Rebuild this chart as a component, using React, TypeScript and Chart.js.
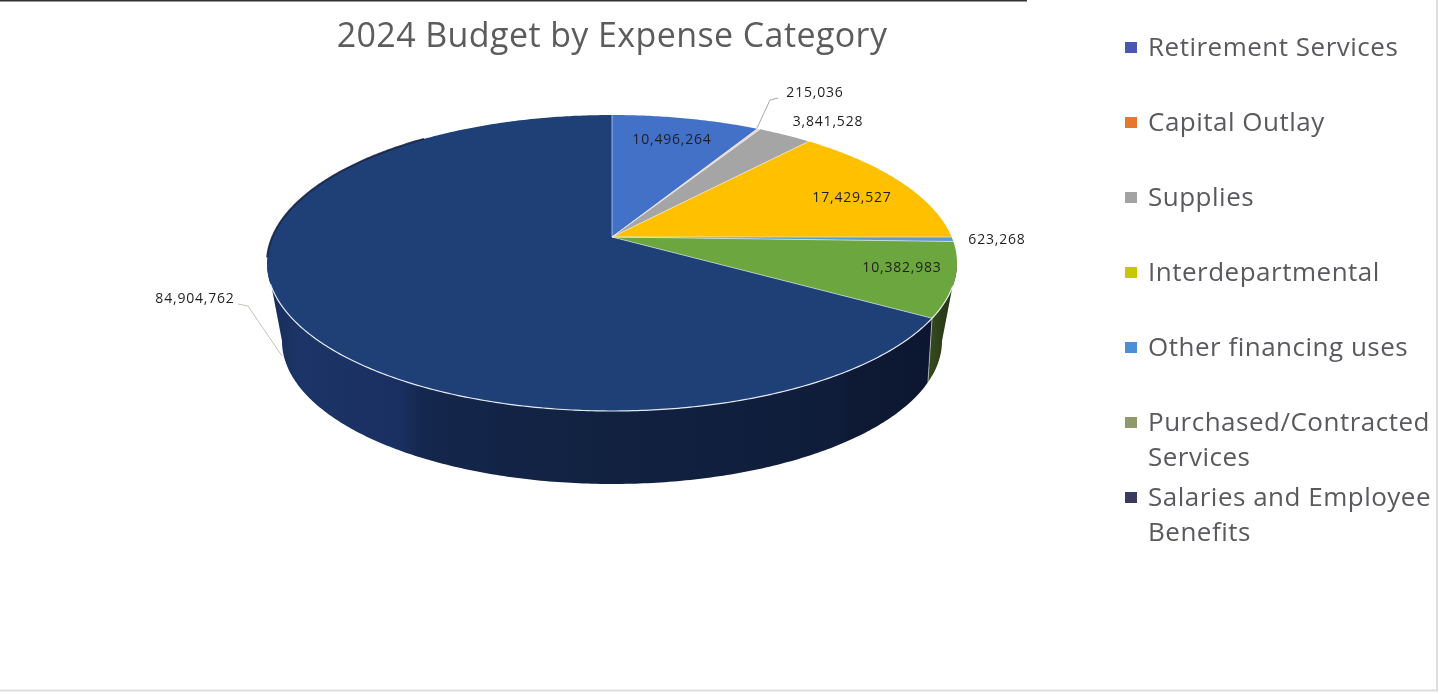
import React, { useEffect, useRef } from "react";
import { Chart, registerables } from "chart.js";

Chart.register(...registerables);

const titleText = "2024 Budget by Expense Category";
const categories: string[][] = [
  ["Retirement Services"],
  ["Capital Outlay"],
  ["Supplies"],
  ["Interdepartmental"],
  ["Other financing uses"],
  ["Purchased/Contracted", "Services"],
  ["Salaries and Employee", "Benefits"],
];
const budgetValues = [10496264, 215036, 3841528, 17429527, 623268, 10382983, 84904762];
const sliceColors = ["#4371c8", "#efd6cc", "#a5a5a5", "#ffc000", "#5b9bd5", "#6ba63f", "#1f3f77"];
const legendColors = ["#4a55b5", "#e8772e", "#a3a3a3", "#c9c800", "#4a90d4", "#8f9a6a", "#3a3b5c"];

// layout constants
const FONT = '"Open Sans", sans-serif';
const TOP_FACE = { cy: 263, rx: 345, ry: 148, b: -26 };
const BOTTOM_FACE = { cy: 341, rx: 330, ry: 143, b: -38 };
const labelPositions = [
  [672, 140], [815, 93], [828, 122], [852, 198], [997, 240], [902, 268], [195, 299],
];
const leaderLines: number[][][] = [
  [[757, 128], [770, 100], [778, 98]],
  [[238, 304], [248, 306], [282, 356]],
];
const legendRows = [47, 122, 197, 272, 347, 422, 497];

type Face = typeof TOP_FACE;
const project = (cx: number, a: number, f: Face) => {
  const s = Math.sin(a);
  const c = Math.cos(a);
  const p = f.b / f.ry;
  const d = 1 + p * s;
  return [cx + (f.rx * Math.sqrt(1 - p * p) * c) / d, f.cy + (f.ry * s + f.b) / d];
};

const sampleAngles = (a0: number, a1: number) => {
  const n = Math.max(2, Math.ceil(Math.abs(a1 - a0) / 0.01));
  const out: number[] = [];
  for (let i = 0; i <= n; i++) out.push(a0 + ((a1 - a0) * i) / n);
  return out;
};

// the angle at which a face reaches its widest point on screen
const tangentAngle = (f: Face) => Math.asin(-f.b / f.ry);

const pie3dPlugin = {
  id: "pie3d",
  beforeDraw(chart: any) {
    (chart.ctx as any).letterSpacing = "0.4px";
  },
  beforeDatasetsDraw(chart: any) {
    const ctx: CanvasRenderingContext2D = chart.ctx;
    (ctx as any).letterSpacing = "0px";
    const arcs = chart.getDatasetMeta(0).data as any[];
    const cx = arcs[0].x;
    const apex = [cx, TOP_FACE.cy + TOP_FACE.b];
    const rad = Math.PI / 180;
    const topT = tangentAngle(TOP_FACE);
    const botT = tangentAngle(BOTTOM_FACE);

    ctx.save();

    // side walls
    const navyWall = ctx.createLinearGradient(267, 0, 935, 0);
    [
      [0, "#182c5a"], [0.05, "#1c3467"], [0.2, "#1a2f61"], [0.233, "#14274c"], [0.5, "#112140"],
      [0.86, "#0f1d3a"], [0.87, "#0e1a34"], [1, "#0c1630"],
    ].forEach(([o, c]) => navyWall.addColorStop(o as number, c as string));
    const greenWall = ctx.createLinearGradient(925, 0, 957, 0);
    greenWall.addColorStop(0, "#3a4f22");
    greenWall.addColorStop(1, "#1f2f10");
    const wallFill = (i: number) =>
      i === 6 ? navyWall : i === 5 ? greenWall : "#1f2f10";

    arcs.forEach((arc, i) => {
      const t0 = Math.max(arc.startAngle, topT);
      const t1 = Math.min(arc.endAngle, Math.PI - topT);
      const b0 = Math.max(arc.startAngle, botT);
      const b1 = Math.min(arc.endAngle, Math.PI - botT);
      if (t1 <= t0 || b1 <= b0) return;
      ctx.beginPath();
      sampleAngles(t0, t1).forEach((a, k) => {
        const [x, y] = project(cx, a, TOP_FACE);
        k ? ctx.lineTo(x, y) : ctx.moveTo(x, y);
      });
      sampleAngles(b1, b0).forEach((a) => {
        const [x, y] = project(cx, a, BOTTOM_FACE);
        ctx.lineTo(x, y);
      });
      ctx.closePath();
      ctx.fillStyle = wallFill(i);
      ctx.fill();
    });

    // wall seams
    ctx.lineWidth = 1;
    ctx.strokeStyle = "rgba(225,225,225,0.6)";
    arcs.forEach((arc) => {
      const a = arc.endAngle;
      if (a > botT && a < Math.PI - botT) {
        const t = project(cx, a, TOP_FACE);
        const u = project(cx, a, BOTTOM_FACE);
        ctx.beginPath();
        ctx.moveTo(t[0], t[1]);
        ctx.lineTo(u[0], u[1]);
        ctx.stroke();
      }
    });

    // top faces
    arcs.forEach((arc) => {
      ctx.beginPath();
      ctx.moveTo(apex[0], apex[1]);
      sampleAngles(arc.startAngle, arc.endAngle).forEach((a) => {
        const [x, y] = project(cx, a, TOP_FACE);
        ctx.lineTo(x, y);
      });
      ctx.closePath();
      ctx.fillStyle = arc.options.backgroundColor;
      ctx.fill();
    });

    // dark upper-left rim
    ctx.strokeStyle = "rgba(24,36,70,0.9)";
    ctx.lineWidth = 2;
    ctx.beginPath();
    sampleAngles(172 * rad, 231 * rad).forEach((a, k) => {
      const [x, y] = project(cx, a, TOP_FACE);
      k ? ctx.lineTo(x, y) : ctx.moveTo(x, y);
    });
    ctx.stroke();

    // radial seams
    ctx.lineWidth = 1;
    ctx.strokeStyle = "rgba(235,240,250,0.6)";
    arcs.forEach((arc) => {
      const e = project(cx, arc.startAngle, TOP_FACE);
      ctx.beginPath();
      ctx.moveTo(apex[0], apex[1]);
      ctx.lineTo(e[0], e[1]);
      ctx.stroke();
    });

    // bright front rim
    ctx.strokeStyle = "rgba(245,248,255,0.9)";
    ctx.lineWidth = 1.2;
    ctx.beginPath();
    sampleAngles(19 * rad, 162 * rad).forEach((a, k) => {
      const [x, y] = project(cx, a, TOP_FACE);
      k ? ctx.lineTo(x, y) : ctx.moveTo(x, y);
    });
    ctx.stroke();

    ctx.restore();
    return false;
  },
  afterDraw(chart: any) {
    const ctx: CanvasRenderingContext2D = chart.ctx;
    const values = chart.data.datasets[0].data as number[];
    ctx.save();

    // leader lines
    ctx.lineWidth = 1;
    leaderLines.forEach((pts, n) => {
      ctx.strokeStyle = n === 0 ? "#a6a6a6" : "#c4c4bc";
      ctx.beginPath();
      pts.forEach(([x, y], k) => (k ? ctx.lineTo(x, y) : ctx.moveTo(x, y)));
      ctx.stroke();
    });

    // value labels
    ctx.font = `14px ${FONT}`;
    (ctx as any).letterSpacing = "0.8px";
    ctx.fillStyle = "#1f1f1f";
    ctx.textAlign = "center";
    ctx.textBaseline = "middle";
    values.forEach((v, i) => {
      ctx.fillText(v.toLocaleString("en-US"), labelPositions[i][0], labelPositions[i][1]);
    });

    // legend
    ctx.textAlign = "left";
    ctx.font = `26px ${FONT}`;
    (ctx as any).letterSpacing = "0.5px";
    (chart.data.labels as string[][]).forEach((lines, i) => {
      const y = legendRows[i];
      ctx.fillStyle = legendColors[i];
      ctx.fillRect(1125, y - 5, 12, 11);
      ctx.fillStyle = "#5a5a5e";
      lines.forEach((line, k) => ctx.fillText(line, 1148, y + 2 + k * 35));
    });
    (ctx as any).letterSpacing = "0px";

    // page edges
    ctx.fillStyle = "#333333";
    ctx.fillRect(0, 0, 1027, 1.5);
    ctx.fillStyle = "#dedede";
    ctx.fillRect(1436, 0, 2, 691);
    ctx.fillRect(0, 689.5, 1438, 2);
    ctx.restore();
  },
};

export default function App() {
  const ref = useRef<HTMLCanvasElement>(null);
  useEffect(() => {
    const chart = new Chart(ref.current as HTMLCanvasElement, {
      type: "pie",
      data: {
        labels: categories as any,
        datasets: [{ data: budgetValues, backgroundColor: sliceColors, borderWidth: 0 }],
      },
      options: {
        animation: false,
        responsive: false,
        devicePixelRatio: 1,
        layout: { padding: { right: 215 } },
        plugins: {
          legend: { display: false },
          tooltip: { enabled: false },
          title: {
            display: true,
            text: titleText,
            color: "#5c5c5c",
            font: { family: '"Open Sans", sans-serif', size: 34, weight: "normal" },
            padding: { top: 17, bottom: 8 },
          },
        },
      },
      plugins: [pie3dPlugin as any],
    } as any);
    return () => chart.destroy();
  }, []);
  return (
    <div style={{ position: "fixed", left: 0, top: 0, width: 1439, height: 694, background: "#ffffff" }}>
      <canvas ref={ref} width={1439} height={694} style={{ display: "block" }} />
    </div>
  );
}
